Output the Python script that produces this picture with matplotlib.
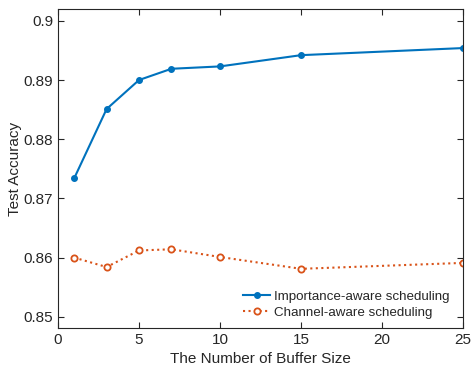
import matplotlib
matplotlib.use("Agg")
import matplotlib.pyplot as plt

buffer_size = [1, 3, 5, 7, 10, 15, 25]
importance_acc = [0.8734, 0.8851, 0.8900, 0.8919, 0.8923, 0.8942, 0.8954]
channel_acc = [0.8600, 0.8584, 0.8612, 0.8614, 0.8601, 0.8581, 0.8591]
xticks = [0, 5, 10, 15, 20, 25]
yticks = [0.85, 0.86, 0.87, 0.88, 0.89, 0.9]
ytick_labels = ["0.85", "0.86", "0.87", "0.88", "0.89", "0.9"]

plt.rcParams['font.family'] = ['Liberation Sans', 'DejaVu Sans']
axc = '#262626'
fig = plt.figure(figsize=(4.71, 3.69), dpi=100)
ax = fig.add_axes([58/471, 1-328/369, (463-58)/471, (328-9)/369])

ax.plot(buffer_size, importance_acc, '-', color='#0072BD', lw=1.5, marker='o',
        ms=4, mfc='#0072BD', mec='#0072BD', label='Importance-aware scheduling')
ax.plot(buffer_size, channel_acc, ':', color='#D95319', lw=1.5, marker='o',
        ms=4.5, mfc='white', mec='#D95319', mew=1.3, label='Channel-aware scheduling')

ax.set_xlim(0, 25)
ax.set_ylim(0.8481, 0.9020)
ax.set_xticks(xticks)
ax.set_yticks(yticks)
ax.set_yticklabels(ytick_labels)
ax.tick_params(direction='in', length=4, width=0.8, colors=axc, labelsize=11,
               top=True, right=True, labelcolor=axc)
for s in ax.spines.values():
    s.set_color(axc)
    s.set_linewidth(0.8)
ax.set_xlabel('The Number of Buffer Size', fontsize=11, color=axc, labelpad=4)
ax.set_ylabel('Test Accuracy', fontsize=11, color=axc, labelpad=1)
leg = ax.legend(loc='lower right', frameon=False, fontsize=9.6, handlelength=2.0,
                handletextpad=0.3, borderaxespad=0.3, labelspacing=0.25,
                bbox_to_anchor=(0.99, 0.0))
for t in leg.get_texts():
    t.set_color(axc)
fig.savefig('out.png', dpi=100)
